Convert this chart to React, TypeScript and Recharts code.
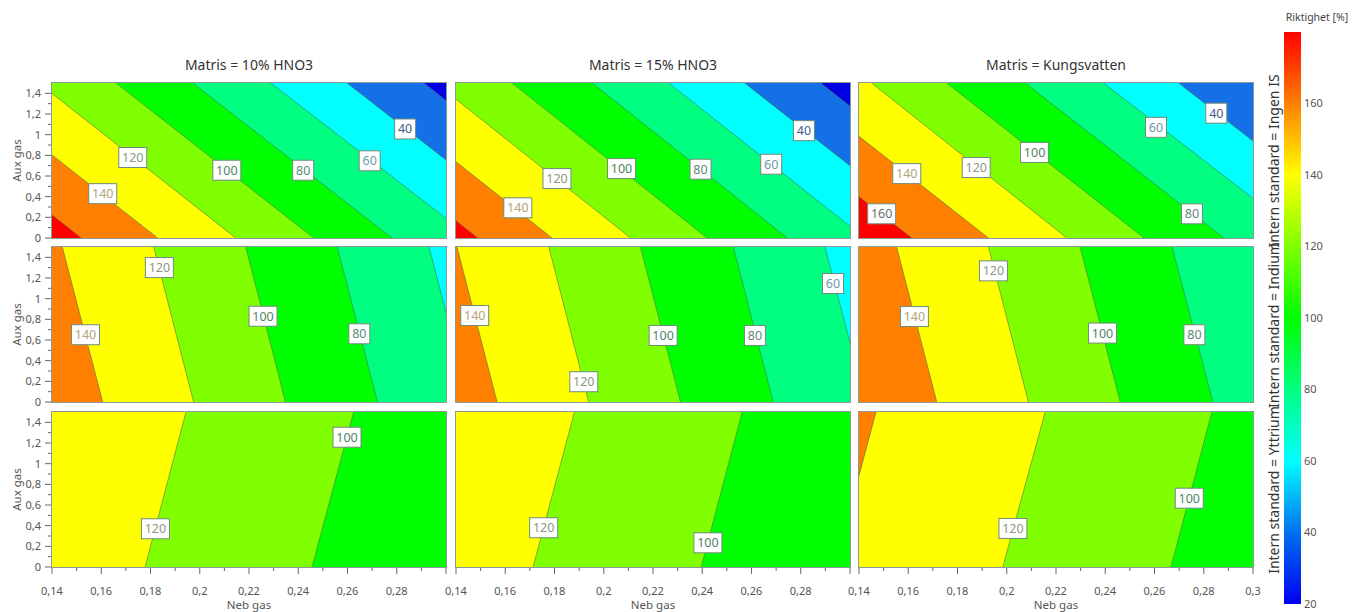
import {
  ComposedChart,
  Area,
  XAxis,
  YAxis,
  CartesianGrid,
  ReferenceDot,
  BarChart,
  Bar,
} from "recharts";

const MATRIX_TITLES = ["Matris = 10% HNO3", "Matris = 15% HNO3", "Matris = Kungsvatten"];
const IS_TITLES = [
  "Intern standard = Ingen IS",
  "Intern standard = Indium",
  "Intern standard = Yttrium",
];

const NEB_TICKS = [0.14, 0.15, 0.16, 0.17, 0.18, 0.19, 0.2, 0.21, 0.22, 0.23, 0.24, 0.25, 0.26, 0.27, 0.28, 0.29, 0.3];
const AUX_TICKS = [0, 0.1, 0.2, 0.3, 0.4, 0.5, 0.6, 0.7, 0.8, 0.9, 1, 1.1, 1.2, 1.3, 1.4];
const SCALE_TICKS = [20, 40, 60, 80, 100, 120, 140, 160];
const SCALE_RANGE = [{ name: "Riktighet", range: [20, 180] }];

// contour lines: [level, neb gas where aux gas = 0, neb gas where aux gas = 1,5]
const ingen10 = [[160, 0.1519, 0.072], [140, 0.1829, 0.1029], [120, 0.2146, 0.1346], [100, 0.2463, 0.166], [80, 0.278, 0.1971], [60, 0.3104, 0.2288], [40, 0.3408, 0.2598], [20, 0.3695, 0.2911]];
const ingen15 = [[160, 0.1488, 0.0696], [140, 0.179, 0.0998], [120, 0.2109, 0.1317], [100, 0.242, 0.1628], [80, 0.2745, 0.1953], [60, 0.306, 0.2264], [40, 0.3374, 0.2572], [20, 0.3682, 0.2881]];
const ingenKv = [[160, 0.1614, 0.0812], [140, 0.1926, 0.1124], [120, 0.2244, 0.1451], [100, 0.2558, 0.1756], [80, 0.2881, 0.2075], [60, 0.3209, 0.2393], [40, 0.3504, 0.2698]];
const indium10 = [[140, 0.1606, 0.1442], [120, 0.1975, 0.1813], [100, 0.2348, 0.2187], [80, 0.2722, 0.2558], [60, 0.3094, 0.2931]];
const indium15 = [[140, 0.1567, 0.1404], [120, 0.1939, 0.1777], [100, 0.2312, 0.2149], [80, 0.2688, 0.2526], [60, 0.3063, 0.2898]];
const indiumKv = [[140, 0.1716, 0.1553], [120, 0.2088, 0.1926], [100, 0.2461, 0.2298], [80, 0.2837, 0.2671]];
const yttrium10 = [[120, 0.1778, 0.1944], [100, 0.2456, 0.2625]];
const yttrium15 = [[120, 0.1713, 0.1881], [100, 0.2396, 0.2562]];
const yttriumKv = [[140, 0.1301, 0.1469], [120, 0.1984, 0.2156], [100, 0.2667, 0.2833]];

// contour labels: [level, neb gas, aux gas]
const ingen10Labels = [[40, 0.2834, 1.055], [60, 0.269, 0.747], [80, 0.242, 0.656], [100, 0.211, 0.656], [120, 0.1728, 0.779], [140, 0.1606, 0.429]];
const ingen15Labels = [[40, 0.2813, 1.039], [60, 0.268, 0.714], [80, 0.2393, 0.666], [100, 0.2072, 0.672], [120, 0.181, 0.575], [140, 0.1651, 0.292]];
const ingenKvLabels = [[40, 0.2851, 1.208], [60, 0.2606, 1.071], [80, 0.2752, 0.234], [100, 0.2113, 0.828], [120, 0.1876, 0.682], [140, 0.1594, 0.623], [160, 0.1492, 0.234]];
const indium10Labels = [[120, 0.1836, 1.301], [140, 0.1536, 0.651], [100, 0.2257, 0.83], [80, 0.2648, 0.66]];
const indium15Labels = [[140, 0.1476, 0.837], [120, 0.1919, 0.196], [100, 0.2241, 0.644], [80, 0.2614, 0.644], [60, 0.2931, 1.147]];
const indiumKvLabels = [[120, 0.1946, 1.269], [140, 0.1625, 0.827], [100, 0.2389, 0.667], [80, 0.2762, 0.651]];
const yttrium10Labels = [[100, 0.2598, 1.256], [120, 0.182, 0.37]];
const yttrium15Labels = [[120, 0.1756, 0.38], [100, 0.2423, 0.234]];
const yttriumKvLabels = [[100, 0.2741, 0.666], [120, 0.2025, 0.373]];

const PANELS = [
  [ingen10, ingen15, ingenKv],
  [indium10, indium15, indiumKv],
  [yttrium10, yttrium15, yttriumKv],
];
const PANEL_LABELS = [
  [ingen10Labels, ingen15Labels, ingenKvLabels],
  [indium10Labels, indium15Labels, indiumKvLabels],
  [yttrium10Labels, yttrium15Labels, yttriumKvLabels],
];

const LEVEL_COLOR: Record<number, string> = {
  20: "#0000e0",
  40: "#1470e6",
  60: "#00ffff",
  80: "#00ff80",
  100: "#00ff00",
  120: "#80ff00",
  140: "#ffff00",
  160: "#ff8000",
  180: "#ff0000",
};

const LABEL_INK: Record<number, string> = {
  160: "#6e6e6e",
  140: "#b3a37a",
  120: "#8a9a7e",
  100: "#4f8564",
  80: "#5b8a78",
  60: "#6b9aa8",
  40: "#3d5c8a",
};

const COL_LEFT = [52, 456, 859];
const ROW_TOP = [83, 247, 412];
const PW = 394;
const PH = 155;
const FONT = "'Noto Sans', 'DejaVu Sans', sans-serif";

const fmt = (v: number) => String(v).replace(".", ",");

const toRows = (lines: number[][]) => {
  const bottom: Record<string, number> = { aux: 0 };
  const top: Record<string, number> = { aux: 1.5 };
  lines.forEach(([lv, b, t]) => {
    bottom["c" + lv] = b;
    top["c" + lv] = t;
  });
  return [bottom, top];
};

const ContourLabel = ({ cx, cy, level }: { cx: number; cy: number; level: number }) => {
  const text = String(level);
  const w = text.length * 7 + 7;
  const h = 20;
  return (
    <g>
      <rect x={cx - w / 2} y={cy - h / 2} width={w} height={h} fill="#fff" stroke="#6d8d78" strokeWidth={1} />
      <text x={cx} y={cy + 4.5} textAnchor="middle" fontSize={12.5} fill={LABEL_INK[level]} fontFamily={FONT}>
        {text}
      </text>
    </g>
  );
};

const NebTick = (props: any) => {
  const { x, y, payload, last } = props;
  const v = payload.value;
  const major = Math.round(v * 100) % 2 === 0;
  const showText = major && (v < 0.295 || last);
  return (
    <g>
      <line x1={x} y1={y} x2={x} y2={y + (major ? 7 : 4)} stroke="#666" />
      {showText && (
        <text x={x} y={y + 28} textAnchor="middle" fontSize={11} fill="#555" fontFamily={FONT}>
          {fmt(v)}
        </text>
      )}
    </g>
  );
};

const AuxTick = (props: any) => {
  const { x, y, payload } = props;
  const v = payload.value;
  const major = Math.round(v * 10) % 2 === 0;
  return (
    <g>
      <line x1={x - (major ? 7 : 4)} y1={y} x2={x} y2={y} stroke="#666" />
      {major && (
        <text x={x - 11} y={y + 4} textAnchor="end" fontSize={11} fill="#555" fontFamily={FONT}>
          {fmt(v)}
        </text>
      )}
    </g>
  );
};

const ContourPanel = ({ r, c }: { r: number; c: number }) => {
  const lines = PANELS[r][c];
  const labels = PANEL_LABELS[r][c];
  const rows = toRows(lines);
  const levels = lines.map((l) => l[0]).sort((a, b) => a - b);
  const bg = LEVEL_COLOR[levels[0]];
  const yw = c === 0 ? 40 : 0;
  const bottomRow = r === 2;
  const xh = bottomRow ? 46 : 0;
  const mb = bottomRow ? 0 : 8;
  return (
    <>
      <div style={{ position: "absolute", left: COL_LEFT[c] - 14 - yw, top: ROW_TOP[r] }}>
        <ComposedChart
          layout="vertical"
          width={PW + 28 + yw}
          height={PH + xh + mb}
          data={rows}
          margin={{ top: 0, right: 14, bottom: mb, left: 14 }}
        >
          <CartesianGrid horizontal={false} vertical={false} fill={bg} fillOpacity={1} />
          <XAxis
            type="number"
            domain={[0.14, 0.3]}
            allowDataOverflow
            ticks={NEB_TICKS}
            interval={0}
            hide={!bottomRow}
            height={46}
            axisLine={false}
            tickLine={false}
            tickSize={0}
            tickMargin={0}
            tick={(p: any) => <NebTick {...p} last={c === 2} />}
            label={{ value: "Neb gas", position: "insideBottom", offset: 4, fontSize: 11.5, fill: "#555" }}
          />
          <YAxis
            type="number"
            dataKey="aux"
            domain={[0, 1.5]}
            reversed
            allowDataOverflow
            ticks={AUX_TICKS}
            interval={0}
            hide={c !== 0}
            width={40}
            axisLine={false}
            tickLine={false}
            tickSize={0}
            tickMargin={0}
            tick={(p: any) => <AuxTick {...p} />}
            label={{
              value: "Aux gas",
              angle: -90,
              position: "insideLeft",
              fontSize: 11.5,
              fill: "#555",
              style: { textAnchor: "middle" },
            }}
          />
          {levels.map((lv) => (
            <Area
              key={lv}
              dataKey={"c" + lv}
              type="linear"
              fill={LEVEL_COLOR[lv + 20]}
              fillOpacity={1}
              stroke="#4a6a4a"
              strokeOpacity={0.7}
              strokeWidth={0.8}
              dot={false}
              activeDot={false}
              isAnimationActive={false}
            />
          ))}
          {labels.map(([lv, neb, aux], i) => (
            <ReferenceDot
              key={i}
              x={neb}
              y={aux}
              r={1}
              ifOverflow="visible"
              shape={(p: any) => <ContourLabel cx={p.cx} cy={p.cy} level={lv} />}
            />
          ))}
        </ComposedChart>
      </div>
      <div
        style={{
          position: "absolute",
          left: COL_LEFT[c] - 1,
          top: ROW_TOP[r] - 1,
          width: PW,
          height: PH,
          border: "1px solid #8a9a98",
          pointerEvents: "none",
        }}
      />
    </>
  );
};

const ScaleBar = () => (
  <div style={{ position: "absolute", left: 1284, top: 26 }}>
    <BarChart
      width={60}
      height={586}
      data={SCALE_RANGE}
      barCategoryGap={0}
      margin={{ top: 6, right: 0, bottom: 8, left: 0 }}
    >
      <defs>
        <linearGradient id="rikGrad" x1="0" y1="0" x2="0" y2="1">
          <stop offset="0" stopColor={LEVEL_COLOR[180]} />
          <stop offset="0.125" stopColor={LEVEL_COLOR[160]} />
          <stop offset="0.25" stopColor={LEVEL_COLOR[140]} />
          <stop offset="0.375" stopColor={LEVEL_COLOR[120]} />
          <stop offset="0.5" stopColor={LEVEL_COLOR[100]} />
          <stop offset="0.625" stopColor={LEVEL_COLOR[80]} />
          <stop offset="0.75" stopColor={LEVEL_COLOR[60]} />
          <stop offset="0.875" stopColor="#0070f0" />
          <stop offset="1" stopColor="#0000f0" />
        </linearGradient>
      </defs>
      <XAxis dataKey="name" type="category" hide />
      <YAxis
        orientation="right"
        type="number"
        domain={[20, 180]}
        ticks={SCALE_TICKS}
        interval={0}
        width={43}
        axisLine={false}
        tickLine={false}
        tickSize={0}
        tickMargin={3}
        tick={{ fontSize: 11, fill: "#555", fontFamily: FONT }}
      />
      <Bar dataKey="range" fill="url(#rikGrad)" isAnimationActive={false} />
    </BarChart>
  </div>
);

const App = () => {
  return (
    <div
      style={{
        position: "absolute",
        left: 0,
        top: 0,
        width: 1366,
        height: 612,
        background: "#fff",
        fontFamily: FONT,
        overflow: "hidden",
      }}
    >
      {MATRIX_TITLES.map((t, c) => (
        <div
          key={t}
          style={{
            position: "absolute",
            left: COL_LEFT[c] + PW / 2,
            top: 64,
            transform: "translate(-50%, -50%)",
            fontSize: 14,
            color: "#333",
            whiteSpace: "nowrap",
          }}
        >
          {t}
        </div>
      ))}
      {[0, 1, 2].map((r) => [0, 1, 2].map((c) => <ContourPanel key={r + "-" + c} r={r} c={c} />))}
      {IS_TITLES.map((t, r) => (
        <div
          key={t}
          style={{
            position: "absolute",
            left: 1273,
            top: ROW_TOP[r] + PH / 2,
            transform: "translate(-50%, -50%) rotate(-90deg)",
            fontSize: 14,
            color: "#333",
            whiteSpace: "nowrap",
          }}
        >
          {t}
        </div>
      ))}
      <div
        style={{
          position: "absolute",
          left: 1317,
          top: 17,
          transform: "translate(-50%, -50%)",
          fontSize: 10.5,
          color: "#444",
          whiteSpace: "nowrap",
        }}
      >
        Riktighet [%]
      </div>
      <ScaleBar />
    </div>
  );
};

export default App;
